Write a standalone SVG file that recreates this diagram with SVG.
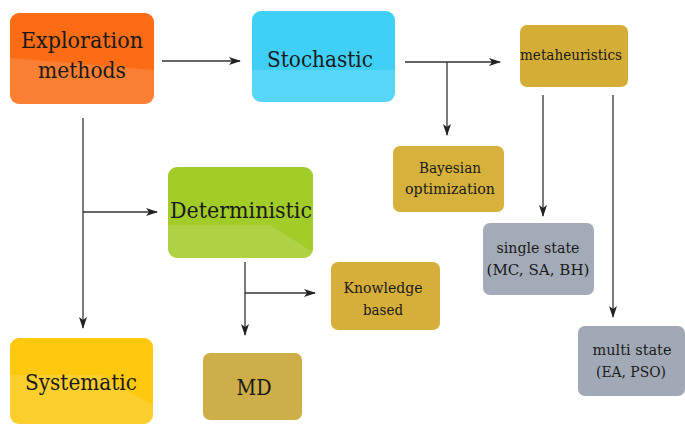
<svg xmlns="http://www.w3.org/2000/svg" width="685" height="424" viewBox="0 0 685 424">
<style>
text{font-family:"DejaVu Serif","Liberation Serif",serif;fill:#1a1a1a;text-anchor:middle}
.big{font-size:22px}
.sm{font-size:14px}
.ln{stroke:#333;stroke-width:1.3;fill:none}
.sh{fill:#fff;opacity:0.13}
</style>
<defs>
<marker id="ah" viewBox="0 0 12 8" refX="11" refY="4" markerWidth="12" markerHeight="8" markerUnits="userSpaceOnUse" orient="auto">
<path d="M0,0 L12,4 L0,8 L3,4 Z" fill="#222"/>
</marker>
</defs>
<rect width="685" height="424" fill="#fff"/>
<g id="connectors">
<line class="ln" x1="162" y1="61" x2="240" y2="61" marker-end="url(#ah)"/>
<line class="ln" x1="405" y1="62" x2="500" y2="62" marker-end="url(#ah)"/>
<line class="ln" x1="447" y1="62" x2="447" y2="135" marker-end="url(#ah)"/>
<line class="ln" x1="83" y1="118" x2="83" y2="328" marker-end="url(#ah)"/>
<line class="ln" x1="83" y1="212" x2="157" y2="212" marker-end="url(#ah)"/>
<line class="ln" x1="245" y1="262" x2="245" y2="335" marker-end="url(#ah)"/>
<line class="ln" x1="245" y1="293" x2="315" y2="293" marker-end="url(#ah)"/>
<line class="ln" x1="543" y1="95" x2="543" y2="216" marker-end="url(#ah)"/>
<line class="ln" x1="613" y1="95" x2="613" y2="317" marker-end="url(#ah)"/>
</g>
<g id="exploration">
<rect x="10" y="13" width="144" height="91" rx="9" fill="#fb6c14"/>
<path class="sh" d="M10,58 L154,70 L154,95 Q154,104 145,104 L19,104 Q10,104 10,95 Z"/>
<text class="big" x="82" y="48" textLength="122" lengthAdjust="spacingAndGlyphs">Exploration</text>
<text class="big" x="82" y="78" textLength="88" lengthAdjust="spacingAndGlyphs">methods</text>
</g>
<g id="stochastic">
<rect x="252" y="11" width="143" height="91" rx="9" fill="#40d0f6"/>
<path class="sh" d="M252,70 L395,70 L395,93 Q395,102 386,102 L261,102 Q252,102 252,93 Z"/>
<text class="big" x="320" y="67" textLength="106" lengthAdjust="spacingAndGlyphs">Stochastic</text>
</g>
<g id="metaheuristics">
<rect x="520" y="25" width="108" height="62" rx="7" fill="#d4ad36"/>
<text class="sm" x="571" y="60" textLength="102" lengthAdjust="spacingAndGlyphs">metaheuristics</text>
</g>
<g id="bayesian">
<rect x="393" y="146" width="111" height="66" rx="7" fill="#d6b13c"/>
<text class="sm" x="450" y="173" textLength="62" lengthAdjust="spacingAndGlyphs">Bayesian</text>
<text class="sm" x="450" y="194" textLength="90" lengthAdjust="spacingAndGlyphs">optimization</text>
</g>
<g id="deterministic">
<rect x="168" y="167" width="145" height="91" rx="9" fill="#a2cc28"/>
<path class="sh" d="M168,225 L270,225 L313,252 Q313,258 304,258 L177,258 Q168,258 168,249 Z"/>
<text class="big" x="241" y="218" textLength="142" lengthAdjust="spacingAndGlyphs">Deterministic</text>
</g>
<g id="single-state">
<rect x="483" y="223" width="111" height="72" rx="7" fill="#a4abb8"/>
<text class="sm" x="538" y="253" textLength="83" lengthAdjust="spacingAndGlyphs">single state</text>
<text class="sm" x="538" y="275" textLength="103" lengthAdjust="spacingAndGlyphs">(MC, SA, BH)</text>
</g>
<g id="knowledge">
<rect x="331" y="262" width="109" height="68" rx="7" fill="#d6ae3a"/>
<text class="sm" x="383" y="293" textLength="79" lengthAdjust="spacingAndGlyphs">Knowledge</text>
<text class="sm" x="383" y="315" textLength="40" lengthAdjust="spacingAndGlyphs">based</text>
</g>
<g id="multi-state">
<rect x="578" y="326" width="107" height="70" rx="7" fill="#a2a9b6"/>
<text class="sm" x="632" y="355" textLength="79" lengthAdjust="spacingAndGlyphs">multi state</text>
<text class="sm" x="631" y="377" textLength="70" lengthAdjust="spacingAndGlyphs">(EA, PSO)</text>
</g>
<g id="systematic">
<rect x="10" y="338" width="143" height="86" rx="9" fill="#fdc80e"/>
<path class="sh" d="M10,375 L100,375 L153,405 L153,424 L10,424 Z"/>
<text class="big" x="81" y="390" textLength="112" lengthAdjust="spacingAndGlyphs">Systematic</text>
</g>
<g id="md">
<rect x="203" y="353" width="99" height="67" rx="7" fill="#cdae48"/>
<text class="big" x="254" y="395" textLength="35" lengthAdjust="spacingAndGlyphs">MD</text>
</g>
</svg>
